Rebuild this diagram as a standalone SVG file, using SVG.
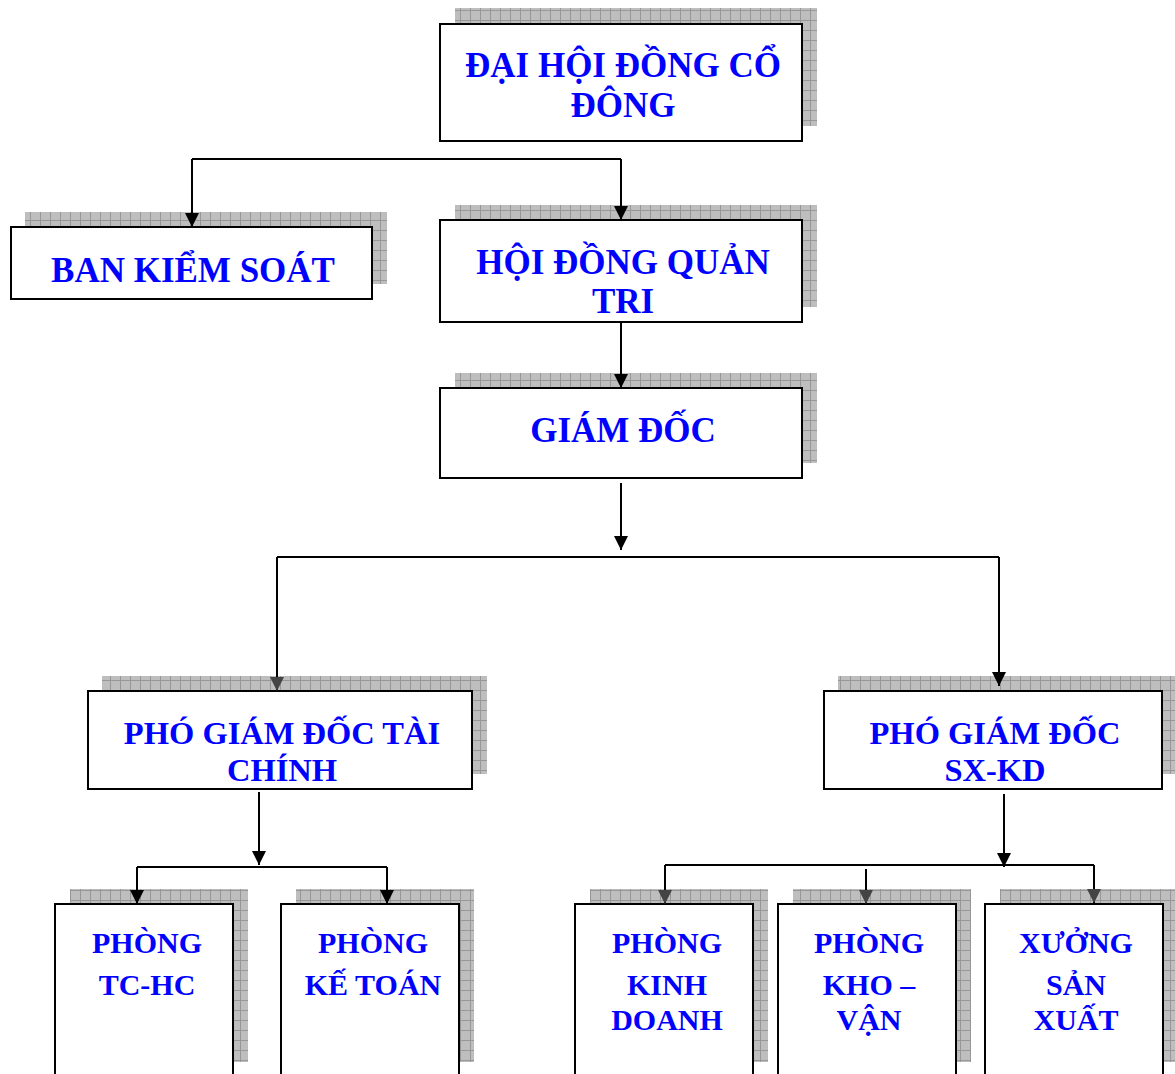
<svg xmlns="http://www.w3.org/2000/svg" width="1175" height="1074" viewBox="0 0 1175 1074">
<style>
.box{fill:#fff;stroke:#000;stroke-width:2}
.sh{fill:url(#grid)}
.t{font-family:"Liberation Serif","Times New Roman",serif;font-weight:bold;fill:#0000ff;text-anchor:middle}
.big{font-size:35px}
.mid{font-size:32.5px}
.sm{font-size:30px}
.ln{fill:none;stroke:#000;stroke-width:2}
</style>
<defs>
<pattern id="grid" width="10" height="10" patternUnits="userSpaceOnUse">
<rect width="10" height="10" fill="#bebebe"/>
<path d="M0 0.5H10M0.5 0V10" stroke="#979797" stroke-width="1"/>
</pattern>
<marker id="ab" viewBox="0 0 14 14" refX="7" refY="14" markerWidth="14" markerHeight="14" markerUnits="userSpaceOnUse">
<path d="M0 0L14 0L7 14Z" fill="#000"/>
</marker>
<marker id="ag" viewBox="0 0 14 14" refX="7" refY="14" markerWidth="14" markerHeight="14" markerUnits="userSpaceOnUse">
<path d="M0 0L14 0L7 14Z" fill="#444"/>
</marker>
</defs>
<rect width="1175" height="1074" fill="#fff"/>

<g id="dhdcd">
<rect class="sh" x="455" y="8" width="362" height="118"/>
<rect class="box" x="440" y="24" width="362" height="117"/>
<text class="t big" x="623" y="77">ĐẠI HỘI ĐỒNG CỔ</text>
<text class="t big" x="623" y="117">ĐÔNG</text>
</g>
<g id="bks">
<rect class="sh" x="25" y="212" width="362" height="72"/>
<rect class="box" x="11" y="227" width="361" height="72"/>
<text class="t big" x="193" y="282">BAN KIỂM SOÁT</text>
</g>
<g id="hdqt">
<rect class="sh" x="455" y="205" width="362" height="102"/>
<rect class="box" x="440" y="220" width="362" height="102"/>
<text class="t big" x="623" y="274">HỘI ĐỒNG QUẢN</text>
<text class="t big" x="623" y="313">TRI</text>
</g>
<g id="gd">
<rect class="sh" x="455" y="373" width="362" height="90"/>
<rect class="box" x="440" y="388" width="362" height="90"/>
<text class="t big" x="623" y="442">GIÁM ĐỐC</text>
</g>
<g id="pgdtc">
<rect class="sh" x="102" y="676" width="385" height="98"/>
<rect class="box" x="88" y="691" width="384" height="98"/>
<text class="t mid" x="282" y="744">PHÓ GIÁM ĐỐC TÀI</text>
<text class="t mid" x="282" y="781">CHÍNH</text>
</g>
<g id="pgdsx">
<rect class="sh" x="838" y="676" width="340" height="98"/>
<rect class="box" x="824" y="691" width="338" height="98"/>
<text class="t mid" x="995" y="744">PHÓ GIÁM ĐỐC</text>
<text class="t mid" x="995" y="781">SX-KD</text>
</g>
<g id="tchc">
<rect class="sh" x="70" y="889" width="178" height="173"/>
<rect class="box" x="55" y="904" width="178" height="190"/>
<text class="t sm" x="147" y="953">PHÒNG</text>
<text class="t sm" x="147" y="995">TC-HC</text>
</g>
<g id="ketoan">
<rect class="sh" x="296" y="889" width="178" height="173"/>
<rect class="box" x="281" y="904" width="178" height="190"/>
<text class="t sm" x="373" y="953">PHÒNG</text>
<text class="t sm" x="373" y="995">KẾ TOÁN</text>
</g>
<g id="kinhdoanh">
<rect class="sh" x="590" y="889" width="178" height="173"/>
<rect class="box" x="575" y="904" width="178" height="190"/>
<text class="t sm" x="667" y="953">PHÒNG</text>
<text class="t sm" x="667" y="995">KINH</text>
<text class="t sm" x="667" y="1030">DOANH</text>
</g>
<g id="khovan">
<rect class="sh" x="793" y="889" width="178" height="173"/>
<rect class="box" x="778" y="904" width="178" height="190"/>
<text class="t sm" x="869" y="953">PHÒNG</text>
<text class="t sm" x="869" y="995">KHO –</text>
<text class="t sm" x="869" y="1030">VẬN</text>
</g>
<g id="xuong">
<rect class="sh" x="1000" y="889" width="178" height="173"/>
<rect class="box" x="985" y="904" width="178" height="190"/>
<text class="t sm" x="1076" y="953">XƯỞNG</text>
<text class="t sm" x="1076" y="995">SẢN</text>
<text class="t sm" x="1076" y="1030">XUẤT</text>
</g>

<g id="connectors">
<path class="ln" d="M192 159H621"/>
<path class="ln" d="M192 159V227" marker-end="url(#ab)"/>
<path class="ln" d="M621 159V220" marker-end="url(#ab)"/>
<path class="ln" d="M621 322V388" marker-end="url(#ab)"/>
<path class="ln" d="M621 483V550" marker-end="url(#ab)"/>
<path class="ln" d="M277 557H999"/>
<path class="ln" d="M277 557V691" marker-end="url(#ag)"/>
<path class="ln" d="M999 557V686" marker-end="url(#ab)"/>
<path class="ln" d="M259 792V865" marker-end="url(#ab)"/>
<path class="ln" d="M137 867H387"/>
<path class="ln" d="M137 867V904" marker-end="url(#ab)"/>
<path class="ln" d="M387 867V904" marker-end="url(#ab)"/>
<path class="ln" d="M1004 794V867" marker-end="url(#ab)"/>
<path class="ln" d="M665 865H1094"/>
<path class="ln" d="M665 865V904" marker-end="url(#ag)"/>
<path class="ln" d="M866 869V904" marker-end="url(#ag)"/>
<path class="ln" d="M1094 865V903" marker-end="url(#ag)"/>
</g>
</svg>
